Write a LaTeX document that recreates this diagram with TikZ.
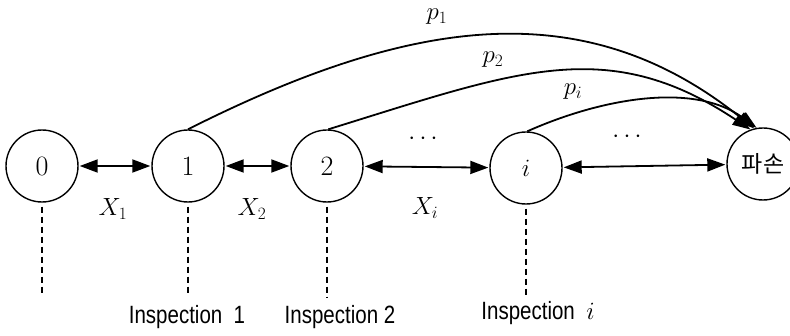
\documentclass[tikz,border=0pt]{standalone}
\usepackage{fontspec}
\usetikzlibrary{arrows.meta}
\newfontfamily\insfont[FakeStretch=0.82]{Liberation Sans}
\newfontfamily\krfont{Noto Sans CJK KR}
\begin{document}
\begin{tikzpicture}[x=1pt,y=1pt,
  state/.style={draw,circle,line width=1.4pt,minimum size=72pt,inner sep=0pt,font=\fontsize{28}{30}\selectfont},
  link/.style={line width=1.8pt,{Triangle[length=18pt,width=13pt]}-{Triangle[length=18pt,width=13pt]},shorten <=1pt,shorten >=1pt},
  fail/.style={line width=1.8pt,-{Triangle[length=18pt,width=12pt]}},
  insp/.style={line width=1.2pt,dash pattern=on 6pt off 4pt},
  lbl/.style={font=\fontsize{27}{29}\selectfont},
  plbl/.style={font=\fontsize{24}{26}\selectfont,inner sep=1pt},
  ilbl/.style={font=\insfont\fontsize{25}{27}\selectfont}]
\useasboundingbox (0,0) rectangle (790,335);
\clip (0,0) rectangle (790,335);
\node[state] (n0) at (42,169) {0};
\node[state] (n1) at (188,169) {1};
\node[state] (n2) at (327,169) {2};
\node[state] (ni) at (526,167) {$i$};
\node[state,font=\krfont\fontsize{23}{25}\selectfont] (nd) at (763,171) {파손};
\draw[link] (n0) -- (n1);
\draw[link] (n1) -- (n2);
\draw[link] (n2) -- (ni);
\draw[link] (ni) -- (nd);
\node[lbl] (x1) at (113,126) {$X_1$};
\node[lbl] (x2) at (252,126) {$X_2$};
\node[lbl] (xi) at (425,127) {$X_i$};
\node[lbl] (d1) at (423,196) {$\cdots$};
\node[lbl] (d2) at (627,198) {$\cdots$};
\coordinate (e0) at (42,40);
\coordinate (e1) at (188,40);
\coordinate (e2) at (327,38);
\coordinate (ei) at (526,40);
\draw[insp] (n0.south) ++(0,-4) -- (e0);
\draw[insp] (n1.south) ++(0,-4) -- (e1);
\draw[insp] (n2.south) ++(0,-4) -- (e2);
\draw[insp] (ni.south) ++(0,-4) -- (ei);
\node[ilbl] (l1) at (187,18) {Inspection\ \ 1};
\node[ilbl] (l2) at (340,18) {Inspection 2};
\node[ilbl] (li) at (538,22) {Inspection\ \ $i$};
\draw[fail] (n1.north) .. controls (411,318) and (584,343) .. (nd.104);
\draw[fail] (n2.88) .. controls (517,264) and (607,301) .. (nd.110);
\draw[fail] (ni.88) .. controls (602,237) and (694,253) .. (nd.100);
\node[plbl] (p1) at (437,318) {$p_1$};
\node[plbl] (p2) at (493,275) {$p_2$};
\node[plbl] (pi) at (573,243) {$p_i$};
\end{tikzpicture}
\end{document}
